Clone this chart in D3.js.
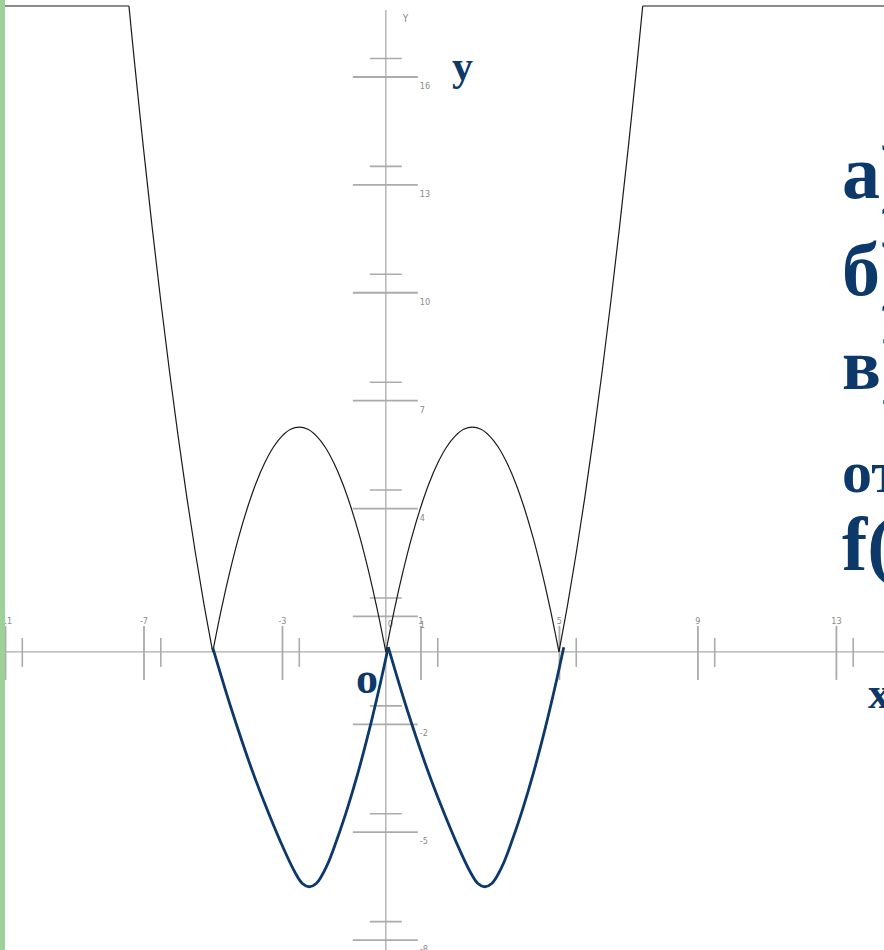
<!DOCTYPE html>
<html>
<head>
<meta charset="utf-8">
<script src="https://cdn.jsdelivr.net/npm/d3@7"></script>
<style>
  html, body { margin: 0; padding: 0; background: #fff; }
  svg { display: block; }
</style>
</head>
<body>
<svg id="chart" width="884" height="950"></svg>
<script>
// Axis ticks
const xTicks = [-11, -7, -3, 1, 5, 9, 13];
const xMinorTicks = [-10.5, -6.5, -2.5, 1.5, 5.5, 9.5, 13.5];
const yTicks = [16, 13, 10, 7, 4, 1, -2, -5, -8];
const yMinorTicks = [16.5, 13.5, 10.5, 7.5, 4.5, 1.5, -1.5, -4.5, -7.5];

// y = |x² − 5|x||, cut off at the top of the plot
const graphX = [-11, -7.42, -7.25, -7, -6.75, -6.5, -6.25, -6, -5.75, -5.5, -5.25, -5,
  -4.75, -4.5, -4.25, -4, -3.75, -3.5, -3.25, -3, -2.75, -2.5, -2.25, -2, -1.75, -1.5, -1.25, -1, -0.75, -0.5, -0.25, 0,
  0.25, 0.5, 0.75, 1, 1.25, 1.5, 1.75, 2, 2.25, 2.5, 2.75, 3, 3.25, 3.5, 3.75, 4, 4.25, 4.5, 4.75, 5,
  5.25, 5.5, 5.75, 6, 6.25, 6.5, 6.75, 7, 7.25, 7.42, 14.4];
const graphY = [17.96, 17.96, 16.31, 14, 11.81, 9.75, 7.81, 6, 4.31, 2.75, 1.31, 0,
  1.19, 2.25, 3.19, 4, 4.69, 5.25, 5.69, 6, 6.19, 6.25, 6.19, 6, 5.69, 5.25, 4.69, 4, 3.19, 2.25, 1.19, 0,
  1.19, 2.25, 3.19, 4, 4.69, 5.25, 5.69, 6, 6.19, 6.25, 6.19, 6, 5.69, 5.25, 4.69, 4, 3.19, 2.25, 1.19, 0,
  1.31, 2.75, 4.31, 6, 7.81, 9.75, 11.81, 14, 16.31, 17.96, 17.96];
// corners of the graph (zeros and the cut-off points)
const graphCorners = [-7.42, -5, 0, 5, 7.42];

// y = x² − 5|x| (the part below the x axis), two arcs
const arcLeftX = [-5.00, -4.47, -3.86, -3.48, -3.05, -2.63, -2.41, -2.21, -2.01, -1.71, -1.41, -1.11, -0.81, -0.46, -0.16, 0.07];
const arcLeftY = [0.12, -1.56, -3.30, -4.26, -5.26, -6.12, -6.44, -6.53, -6.44, -5.96, -5.21, -4.35, -3.38, -2.10, -0.88, 0.13];
const arcRightX = [0.07, 0.60, 1.21, 1.59, 2.02, 2.44, 2.66, 2.86, 3.06, 3.36, 3.66, 3.96, 4.26, 4.61, 4.91, 5.14];
const arcRightY = [0.13, -1.56, -3.30, -4.26, -5.26, -6.12, -6.44, -6.53, -6.44, -5.96, -5.21, -4.35, -3.38, -2.10, -0.88, 0.13];

// Slide text
const listLines = ["а)", "б)", "в)", "от", "f("];

const W = 884, H = 950;
const navy = "#0c386a";
const svg = d3.select("#chart");

svg.append("rect").attr("width", W).attr("height", H).attr("fill", "#fff");

const x = d3.scaleLinear().domain([-11, 13]).range([5, 835.9]);
const y = d3.scaleLinear().domain([-8, 16]).range([939.6, 76.5]);
const x0 = x(0), y0 = y(0);

const gridColor = "#ababab";
const labelFont = "'Liberation Sans Narrow', 'DejaVu Sans Condensed', Arial, sans-serif";

// axis lines
svg.append("line").attr("x1", 5).attr("x2", W).attr("y1", y0).attr("y2", y0)
  .attr("stroke", gridColor).attr("stroke-width", 1.3);
svg.append("line").attr("x1", x0).attr("x2", x0).attr("y1", 10).attr("y2", H)
  .attr("stroke", gridColor).attr("stroke-width", 1.3);

// x axis: long ticks through the axis, labels above
const gx = svg.append("g").attr("transform", `translate(0,${y0})`)
  .call(d3.axisBottom(x).tickValues(xTicks).tickSizeOuter(0).tickFormat(d => String(d)));
gx.select(".domain").remove();
gx.selectAll(".tick line").attr("y1", -26).attr("y2", 28)
  .attr("stroke", gridColor).attr("stroke-width", 1.8);
gx.selectAll(".tick text").attr("y", -28).attr("dy", 0)
  .attr("fill", "#8a8a8a").attr("font-size", 9).attr("font-family", labelFont);

svg.append("g").selectAll("line").data(xMinorTicks).join("line")
  .attr("x1", d => x(d)).attr("x2", d => x(d))
  .attr("y1", y0 - 14).attr("y2", y0 + 15)
  .attr("stroke", gridColor).attr("stroke-width", 1.6);

// y axis: long ticks through the axis, labels to the right
const gy = svg.append("g").attr("transform", `translate(${x0},0)`)
  .call(d3.axisRight(y).tickValues(yTicks).tickSizeOuter(0).tickFormat(d => String(d)));
gy.select(".domain").remove();
gy.selectAll(".tick line").attr("x1", -33).attr("x2", 32)
  .attr("stroke", gridColor).attr("stroke-width", 1.8);
gy.selectAll(".tick text").attr("x", 34).attr("y", 12).attr("dy", 0)
  .attr("fill", "#8a8a8a").attr("font-size", 9).attr("font-family", labelFont);

svg.append("g").selectAll("line").data(yMinorTicks).join("line")
  .attr("x1", x0 - 16).attr("x2", x0 + 16)
  .attr("y1", d => y(d)).attr("y2", d => y(d))
  .attr("stroke", gridColor).attr("stroke-width", 1.6);

// origin label and axis name
svg.append("text").attr("x", x0 + 2).attr("y", y0 - 25).text("0")
  .attr("fill", "#8a8a8a").attr("font-size", 9).attr("font-family", labelFont);
svg.append("text").attr("x", x0 + 17).attr("y", 22).text("Y")
  .attr("fill", "#8a8a8a").attr("font-size", 10).attr("font-family", labelFont);

// split a point list into pieces at the given corner abscissas
function pieces(xs, ys, corners) {
  const out = [];
  let cur = [];
  xs.forEach((xv, i) => {
    cur.push([xv, ys[i]]);
    if (corners.includes(xv) && cur.length > 1) {
      out.push(cur);
      cur = [[xv, ys[i]]];
    }
  });
  if (cur.length > 1) out.push(cur);
  return out;
}

const smooth = d3.line().x(d => x(d[0])).y(d => y(d[1])).curve(d3.curveCatmullRom.alpha(0.5));

// |x² − 5|x|| graph
svg.append("g").selectAll("path").data(pieces(graphX, graphY, graphCorners)).join("path")
  .attr("d", smooth).attr("fill", "none")
  .attr("stroke", "#1a1a1a").attr("stroke-width", 1.2);

// x² − 5|x| arcs
svg.append("g").selectAll("path")
  .data([arcLeftX.map((v, i) => [v, arcLeftY[i]]), arcRightX.map((v, i) => [v, arcRightY[i]])])
  .join("path")
  .attr("d", smooth).attr("fill", "none")
  .attr("stroke", navy).attr("stroke-width", 2.8)
  .attr("stroke-linejoin", "miter").attr("stroke-linecap", "butt");

// axis letters
const serif = "'Liberation Serif', 'Times New Roman', serif";
svg.append("text").attr("x", 452).attr("y", 80).text("y")
  .attr("fill", navy).attr("font-family", serif).attr("font-weight", "bold").attr("font-size", 42);
svg.append("text").attr("x", 356).attr("y", 693).text("о")
  .attr("fill", navy).attr("font-family", serif).attr("font-weight", "bold").attr("font-size", 44);
svg.append("text").attr("x", 868).attr("y", 708).text("x")
  .attr("fill", navy).attr("font-family", serif).attr("font-weight", "bold").attr("font-size", 44);

// list of items on the right, running off the edge
const listBase = [198, 295, 389, 492, 570];
const listSize = [76, 76, 72, 60, 76];
svg.append("g").selectAll("text").data(listLines).join("text")
  .attr("x", 842).attr("y", (d, i) => listBase[i])
  .attr("font-size", (d, i) => listSize[i])
  .attr("fill", navy).attr("font-family", serif).attr("font-weight", "bold")
  .text(d => d);

// green strip on the left edge
svg.append("rect").attr("x", 0).attr("y", 0).attr("width", 5).attr("height", H).attr("fill", "#9ed19a");
</script>
</body>
</html>
